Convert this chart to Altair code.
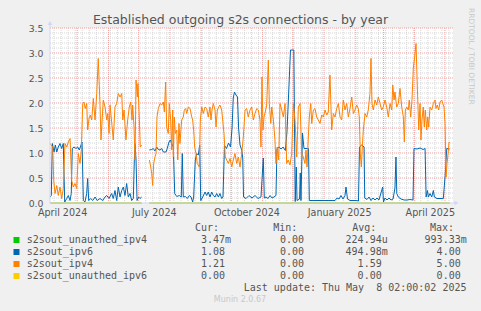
import math
import datetime as dt
import altair as alt
import pandas as pd

# ---------------- data ----------------
START = dt.date(2024, 4, 4)          # day 0 = left edge of the plot
DOMAIN_DAYS = 400                    # Munin "year" graph span

# s2sout_ipv4 (orange): day since START, value
ipv4_day = [0.0, 2.7, 3.7, 5.0, 6.7, 8.2, 9.9, 11.6, 13.2, 14.9, 16.6, 18.2, 19.9, 21.5, 23.1, 24.8,
            26.5, 28.1, 29.8, 31.1, 32.5, 33.7, 35.0, 36.4, 37.4, 38.7, 40.0, 41.4, 43.0, 44.7, 46.4,
            47.9, 49.6, 50.6, 51.9, 52.9, 54.6, 56.3, 57.3, 58.6, 59.6, 61.2, 62.8, 64.5, 66.2, 67.8,
            69.5, 71.2, 72.2, 73.5, 75.4, 77.1, 78.7, 80.1, 81.4, 82.1, 83.4, 84.4, 85.4, 86.7, 87.3,
            88.6, 89.6, 91.0,
            98.6, 100.0, 100.9, 101.9, 102.9, 104.2, 105.2, 106.2, 107.5, 109.2, 110.9, 112.5, 113.5,
            114.8, 115.8, 117.4, 118.4, 119.8, 120.8, 121.8, 122.4, 123.4, 124.4, 125.8, 126.8, 128.0,
            129.0, 130.7, 132.3, 133.3, 134.7, 135.7, 137.3, 139.0, 140.7, 141.6, 142.6, 143.6, 144.9,
            146.2, 148.2, 149.2, 150.6, 152.2, 153.9, 155.5, 157.1, 158.8, 159.8, 160.8, 162.1, 163.8,
            164.8, 166.1, 167.5, 168.7, 170.4, 171.4, 172.7, 174.0, 175.4, 177.0, 178.7, 180.4, 181.9,
            183.6, 185.3, 186.9, 188.6, 190.3, 191.9, 193.6, 195.2, 196.8, 198.5, 200.2, 201.8, 203.5,
            205.2, 206.8, 208.4, 209.4, 210.4, 211.4, 212.4, 213.7, 215.1, 216.7, 217.7, 219.1, 220.1,
            221.7, 223.3, 224.3, 225.6, 227.0, 228.3, 230.0, 231.6, 233.3, 234.9, 236.5, 238.2, 239.9,
            241.5, 243.2, 244.9, 246.5, 248.2, 249.8, 251.4, 253.1, 254.1, 255.1, 256.4, 257.4, 258.8,
            259.8, 261.4, 263.0, 264.7, 266.3, 268.0, 269.7, 271.3, 273.0, 274.7, 276.2, 277.9, 279.6,
            281.2, 282.9, 284.6, 286.2, 287.9, 289.5, 291.1, 292.8, 294.5, 296.1, 297.8, 299.5, 301.1,
            302.7, 304.4, 306.0, 307.0, 308.0, 309.0, 310.0, 311.0, 312.7, 314.4, 315.9, 317.6, 318.6,
            319.6, 320.9, 322.6, 324.3, 325.9, 327.6, 329.2, 330.8, 332.5, 334.2, 335.8, 337.5, 339.2,
            340.2, 341.5, 342.4, 344.1, 345.7, 347.4, 349.1, 350.7, 351.7, 352.7, 354.1, 355.6, 356.6,
            358.0, 359.3, 360.6, 362.0, 363.3, 364.6, 366.0, 367.3, 368.2, 369.2, 370.5, 371.5, 372.5,
            373.9, 374.9, 375.9, 377.2, 378.9, 380.5, 382.2, 383.1, 384.4, 385.8, 387.1, 388.8, 389.8,
            391.1, 392.1, 393.1, 394.1, 395.1, 396.1, 396.7]
ipv4_val = [1.19, 1.12, 0.45, 0.19, 0.35, 0.15, 0.32, 0.09, 0.29, 1.19, 1.12, 1.22, 1.29, 0.45, 0.32, 0.39,
            0.29, 0.99, 0.79, 1.06, 1.99, 2.02, 1.89, 1.99, 1.46, 1.69, 1.76, 1.66, 2.09, 1.66, 2.19,
            2.89, 1.99, 1.26, 1.72, 2.06, 1.92, 1.66, 1.79, 1.39, 1.96, 1.62, 1.26, 1.92, 1.99, 2.19,
            2.12, 2.19, 1.66, 1.86, 1.26, 1.66, 1.92, 2.02, 1.66, 1.96, 1.52, 0.86, 2.46, 2.12, 2.39,
            1.72, 1.12, 1.16,
            0.86, 0.72, 0.59, 0.35, 0.79, 0.92, 0.99, 1.72, 1.89, 1.99, 1.96, 2.02, 1.82,
            2.42, 1.52, 1.39, 1.99, 1.66, 1.06, 1.86, 0.92, 1.72, 1.39, 1.46, 0.86, 1.59,
            1.19, 1.66, 1.72, 1.86, 1.89, 1.79, 1.92, 1.89, 1.72, 1.66, 1.46, 1.12, 0.99,
            0.79, 0.72, 1.66, 1.92, 1.79, 1.92, 1.89, 1.72, 1.92, 1.66, 1.86, 1.99, 1.86,
            1.52, 1.86, 1.92, 1.96, 1.86, 1.66, 1.39, 0.92, 0.86, 0.79, 0.89, 0.72, 0.86,
            0.99, 0.79, 0.92, 0.72, 0.99, 1.32, 1.86, 1.89, 1.72, 1.86, 1.92, 1.66, 1.79,
            1.89, 1.86, 1.66, 1.12, 2.52, 1.46, 1.72, 1.82, 1.96, 2.86, 1.99, 1.59, 1.92,
            1.66, 1.26, 0.79, 1.12, 0.86, 1.99, 1.86, 1.72, 1.99, 0.79, 0.86, 0.76, 0.99,
            1.99, 1.66, 0.92, 1.92, 1.99, 0.99, 0.92, 0.79, 1.06, 0.72, 1.32, 1.72, 1.99,
            1.59, 1.86, 1.89, 1.72, 1.66, 1.59, 1.76, 1.72, 1.86, 1.76, 1.82, 2.56, 1.46,
            1.79, 1.72, 1.89, 1.99, 1.72, 1.66, 2.06, 1.86, 1.99, 1.72, 1.89, 2.12, 1.79,
            1.86, 1.96, 1.89, 1.72, 0.99, 0.72, 1.12, 1.46, 1.79, 1.72, 1.86, 2.19, 2.89,
            1.99, 1.86, 2.06, 1.96, 2.12, 1.99, 1.86, 1.92, 2.06, 1.92, 1.72, 1.99, 1.86,
            2.36, 2.06, 2.22, 1.92, 1.99, 2.29, 1.92, 1.72, 1.22, 1.86, 1.92, 1.86, 2.06,
            1.72, 2.06, 2.69, 2.93, 3.19, 2.32, 1.46, 1.99, 1.26, 1.66, 1.92, 1.52, 1.86,
            1.46, 1.72, 1.52, 1.92, 1.86, 1.99, 2.06, 1.89, 1.96, 1.86, 2.02, 2.06, 1.99,
            1.92, 1.59, 0.52, 0.79, 0.99, 1.22, 1.21]

# s2sout_ipv6 (blue)
ipv6_day = [0.0, 1.3, 2.3, 4.0, 5.3, 6.7, 8.2, 9.9, 11.6, 13.2, 14.6, 16.6, 18.2, 19.9, 21.1, 22.1,
            23.8, 25.8, 27.5, 29.1, 30.8, 31.8, 33.1, 34.7, 36.4, 37.4, 38.4, 40.4, 42.4, 44.7, 46.9,
            49.6, 52.3, 54.6, 56.3, 58.6, 61.2, 62.8, 64.5, 66.2, 67.8, 69.5, 71.2, 72.8, 74.4, 76.1,
            77.7, 79.4, 81.1, 82.7, 83.7, 84.4, 85.4, 86.4, 88.0, 89.3, 91.0,
            98.6, 100.9, 102.5, 104.2, 105.9, 107.5, 109.2, 110.9, 112.5, 115.1, 116.4, 118.1, 119.4,
            120.8, 122.4, 123.8, 125.8, 128.3, 130.3, 131.3, 132.3, 134.3, 136.3, 138.3, 140.0, 141.6,
            142.6, 144.2, 145.6, 147.2, 148.6, 149.6, 151.6, 153.9, 155.5, 157.1, 158.8, 160.5, 162.1,
            163.8, 165.5, 167.1, 168.7, 170.4, 171.7, 173.2, 175.2, 177.2, 179.2, 180.7, 181.9, 183.1,
            184.6, 186.1, 187.2, 188.6, 190.3, 191.3, 192.1, 194.6, 197.5, 200.5, 203.5, 206.5, 209.4,
            211.7, 212.7, 214.4, 216.4, 218.4, 220.4, 222.3, 224.3, 225.3, 227.3, 229.3, 231.3, 233.6,
            235.2, 236.9, 238.7, 242.0, 242.7, 243.4, 244.5, 245.2, 247.7, 248.4, 249.1, 250.6, 252.1,
            254.1, 256.6, 257.4, 260.1, 264.0, 268.0, 272.0, 276.0, 280.0, 282.9, 284.9, 286.9, 288.8,
            290.8, 292.8, 293.8, 295.3, 297.8, 300.8, 303.7, 306.2, 307.2, 309.4, 311.7, 312.4, 314.6,
            316.6, 318.6, 320.6, 322.6, 324.6, 326.5, 328.5, 330.2, 331.0, 332.5, 334.5, 336.5, 338.5,
            340.5, 342.4, 343.4, 344.2, 345.7, 348.4, 351.4, 354.4, 357.3, 360.3, 361.3, 364.3, 367.3,
            370.3, 372.3, 373.3, 374.6, 375.6, 377.2, 378.9, 380.5, 381.5, 384.1, 387.1, 390.4, 392.1,
            393.8, 396.7]
ipv6_val = [0.12, 0.15, 1.19, 1.02, 1.16, 1.02, 1.12, 1.19, 1.09, 1.19, 0.02, 0.09, 0.15, 0.05, 0.19, 1.09,
            1.12, 1.09, 1.12, 1.06, 1.16, 1.22, 0.05, 0.02, 0.19, 0.49, 0.05, 0.09, 0.05, 0.12, 0.05,
            0.09, 0.05, 0.12, 0.15, 0.09, 0.19, 0.09, 0.25, 0.05, 0.32, 0.12, 0.25, 0.32, 0.15, 0.39,
            0.12, 0.19, 0.05, 0.09, 0.86, 1.19, 0.86, 0.05, 0.12, 0.09, 0.12,
            1.06, 1.07, 1.09, 1.04, 1.12, 1.07, 1.06, 1.09, 1.02, 1.02, 1.09, 1.22, 1.26,
            1.19, 1.12, 0.19, 0.13, 0.15, 0.12, 0.99, 0.12, 0.13, 0.09, 0.15, 0.12, 0.02,
            0.12, 0.86, 0.99, 0.96, 1.16, 0.05, 0.12, 0.22, 0.15, 0.22, 0.12, 0.22, 0.15,
            0.12, 0.19, 0.12, 0.19, 0.09, 0.12, 1.15, 1.09, 1.20, 1.12, 1.50, 2.10, 2.22,
            2.16, 2.12, 1.50, 1.16, 1.06, 0.90, 0.12, 0.09, 0.15, 0.10, 0.15, 0.09, 0.12,
            0.90, 0.10, 0.12, 0.09, 0.15, 0.10, 0.12, 0.15, 1.09, 1.12, 1.08, 1.12, 1.05,
            1.42, 2.20, 3.06, 3.06, 1.50, 0.03, 0.72, 0.05, 0.08, 0.60, 0.05, 1.40, 1.09,
            1.09, 1.09, 0.05, 0.05, 0.05, 0.05, 0.05, 0.05, 0.05, 0.05, 0.10, 0.08, 0.15,
            0.08, 0.15, 0.32, 0.08, 0.05, 0.05, 0.05, 0.04, 1.12, 1.16, 1.12, 0.10, 0.07,
            0.12, 0.05, 0.10, 0.06, 0.10, 0.06, 0.20, 0.32, 0.02, 0.10, 0.06, 0.10, 0.06,
            0.08, 0.30, 0.92, 0.19, 0.12, 0.08, 0.06, 0.06, 0.07, 0.06, 1.09, 1.08, 1.10,
            1.07, 1.09, 0.12, 0.25, 0.12, 0.19, 0.12, 0.25, 0.12, 0.09, 0.09, 0.09, 0.52,
            1.09, 1.08]

# the two "unauthed" series sit on zero
unauthed_day = [0.0, 91.0, 98.6, 396.7]
unauthed_ipv4_val = [0.0, 0.0, 0.0, 0.0]
unauthed_ipv6_val = [0.0, 0.0, 0.0, 0.0]
GAP_AFTER = 91.0          # no data between day 91 and 98.6

series_names = ["s2sout_unauthed_ipv4", "s2sout_ipv6", "s2sout_ipv4", "s2sout_unauthed_ipv6"]
series_colors = ["#00CC00", "#0066B3", "#FF8000", "#FFCC00"]
cur_vals = [3.47e-3, 1.08, 1.21, 0.0]
min_vals = [0.0, 0.0, 0.0, 0.0]
avg_vals = [224.94e-6, 494.98e-3, 1.59, 0.0]
max_vals = [993.33e-3, 4.00, 5.00, 0.0]

y_ticks = [0.0, 0.5, 1.0, 1.5, 2.0, 2.5, 3.0, 3.5]
x_label_text = ["April 2024", "July 2024", "October 2024", "January 2025", "April 2025"]
x_label_dates = [dt.date(2024, 4, 16), dt.date(2024, 7, 16), dt.date(2024, 10, 16),
                 dt.date(2025, 1, 16), dt.date(2025, 4, 16)]
last_update = "Last update: Thu May\u00a0\u00a08 02:00:02 2025"
footer = "Munin 2.0.67"
title_text = "Established outgoing s2s connections - by year"
side_text = "RRDTOOL / TOBI OETIKER"

# ---------------- helpers ----------------
def dayof(d):
    return (d - START).days

month_days = []
d = dt.date(2024, 5, 1)
while dayof(d) <= DOMAIN_DAYS:
    month_days.append(dayof(d))
    d = dt.date(d.year + (d.month == 12), d.month % 12 + 1, 1)
week_days = [dayof(START + dt.timedelta(days=k)) for k in range(4, DOMAIN_DAYS + 1, 7)]
week_days = [w for w in week_days if w not in month_days]
label_days = [dayof(x) for x in x_label_dates]

minor_y = [round(k * 0.1, 1) for k in range(1, 35) if k % 5 != 0]
major_y = [0.5, 1.0, 1.5, 2.0, 2.5, 3.0, 3.5]


def seg_frame(days, vals, name):
    rows = []
    for dd, vv in zip(days, vals):
        rows.append({"day": dd, "value": vv, "seg": 0 if dd <= GAP_AFTER else 1, "series": name})
    return pd.DataFrame(rows)


def si(v):
    if v == 0:
        return "0.00", ""
    e = int(math.floor(math.log10(abs(v)) / 3))
    e = max(min(e, 0), -2)
    return f"{v / 10 ** (3 * e):.2f}", {0: "", -1: "m", -2: "u"}[e]


W, H = 403, 175
PL, PT = 50, 28
FONT = "DejaVu Sans"
MONO = "DejaVu Sans Mono"
TXT = "#555555"

xs = alt.Scale(domain=[0, DOMAIN_DAYS])
ys = alt.Scale(domain=[0, 3.5])

label_expr = " : ".join(
    f"datum.value == {dd} ? '{t}'" for dd, t in zip(label_days, x_label_text)) + " : ''"

X_AXIS = alt.Axis(
    values=label_days, labelExpr=label_expr, ticks=False, domain=False, grid=False,
    labelFont=FONT, labelFontSize=9.6, labelColor=TXT, labelPadding=4, title=None,
    labelFlush=False, labelOverlap=False)
Y_AXIS = alt.Axis(
    values=y_ticks, format=".1f", ticks=False, domain=False, grid=False,
    labelFont=FONT, labelFontSize=9.3, labelColor=TXT, labelPadding=7, title=None)


def X(field):
    return alt.X(field, scale=xs, axis=X_AXIS, title=None)


def Y(field):
    return alt.Y(field, scale=ys, axis=Y_AXIS, title=None)


def rules_x(vals, color):
    return alt.Chart(pd.DataFrame({"d": vals})).mark_rule(
        color=color, strokeWidth=1, strokeDash=[1, 1]).encode(x=X("d:Q"))


def rules_y(vals, color):
    return alt.Chart(pd.DataFrame({"v": vals})).mark_rule(
        color=color, strokeWidth=1, strokeDash=[1, 1]).encode(y=Y("v:Q"))


def line(df, color):
    return alt.Chart(df).mark_line(color=color, strokeWidth=1, interpolate="linear").encode(
        x=X("day:Q"), y=Y("value:Q"), detail="seg:N")


grid = [
    rules_y(minor_y, "#d6d6d6"),
    rules_x(week_days, "#d6d6d6"),
    rules_y(major_y, "#f2a0a0"),
    rules_x(month_days, "#f2a0a0"),
]

lines = [
    line(seg_frame(unauthed_day, unauthed_ipv4_val, series_names[0]), series_colors[0]),
    line(seg_frame(ipv6_day, ipv6_val, series_names[1]), series_colors[1]),
    line(seg_frame(ipv4_day, ipv4_val, series_names[2]), series_colors[2]),
    line(seg_frame(unauthed_day, unauthed_ipv6_val, series_names[3]), series_colors[3]),
]

AXC = "#CFD6F8"
one = pd.DataFrame({"a": [0]})
xaxis_line = alt.Chart(one).mark_rule(color=AXC, strokeWidth=1).encode(
    x=alt.datum(0, scale=xs, axis=X_AXIS), x2=alt.datum(402.5), y=alt.datum(0, scale=ys, axis=Y_AXIS))
yaxis_line = alt.Chart(one).mark_rule(color=AXC, strokeWidth=1).encode(
    x=alt.datum(0, scale=xs, axis=X_AXIS), y=alt.datum(0, scale=ys, axis=Y_AXIS), y2=alt.datum(3.6))
arrow_r = alt.Chart(one).mark_point(
    shape="triangle-right", filled=True, color=AXC, size=22, opacity=1).encode(
    x=alt.datum(403.5, scale=xs, axis=X_AXIS), y=alt.datum(0, scale=ys, axis=Y_AXIS))
arrow_u = alt.Chart(one).mark_point(
    shape="triangle-up", filled=True, color=AXC, size=22, opacity=1).encode(
    x=alt.datum(0, scale=xs, axis=X_AXIS), y=alt.datum(3.6, scale=ys, axis=Y_AXIS))

# ---------------- text: title, side text, legend ----------------
def txt(s, x, y, size=10, font=MONO, color=TXT, align="left", angle=0, baseline="middle"):
    kw = dict(text=s, font=font, fontSize=size, color=color, align=align, baseline=baseline)
    if angle:
        kw["angle"] = angle
    return alt.Chart(one).mark_text(**kw).encode(x=alt.value(x), y=alt.value(y))

texts = [
    txt(title_text, 240.5 - PL, 20 - PT, size=12.5, font=FONT, color=TXT, align="center"),
    txt(side_text, 471 - PL, 8 - PT, size=7.5, font=FONT, color="#c8c8c8", angle=90),
    txt("Cur:", 195 - PL, 228 - PT),
    txt("Min:", 273.3 - PL, 228 - PT),
    txt("Avg:", 352.3 - PL, 228 - PT),
    txt("Max:", 430 - PL, 228 - PT),
    txt(last_update, 466.5 - PL, 288 - PT, align="right"),
    txt(footer, 240 - PL, 300 - PT, size=8, font=FONT, color="#c8c8c8", align="center"),
]

row_y = [240, 252, 264, 276]
col_right = [225, 304, 381.7, 460.7]
for i, name in enumerate(series_names):
    yy = row_y[i] - PT
    texts.append(alt.Chart(one).mark_square(
        color=series_colors[i], size=36, opacity=1).encode(x=alt.value(16.5 - PL), y=alt.value(yy)))
    texts.append(txt(name, 26.7 - PL, yy))
    for cx, v in zip(col_right, [cur_vals[i], min_vals[i], avg_vals[i], max_vals[i]]):
        num, unit = si(v)
        texts.append(txt(num, cx - PL, yy, align="right"))
        if unit:
            texts.append(txt(unit, cx - PL, yy))

chart = alt.layer(*grid, *lines, xaxis_line, yaxis_line, arrow_r, arrow_u, *texts).properties(
    width=W, height=H,
    autosize=alt.AutoSizeParams(type="none"),
    padding={"left": PL, "top": PT, "right": 481 - PL - W, "bottom": 311 - PT - H},
    background="#F0F0F0",
).configure_view(stroke=None, fill="#FFFFFF")

chart.save("out.html", embed_options={"renderer": "svg", "actions": False})
